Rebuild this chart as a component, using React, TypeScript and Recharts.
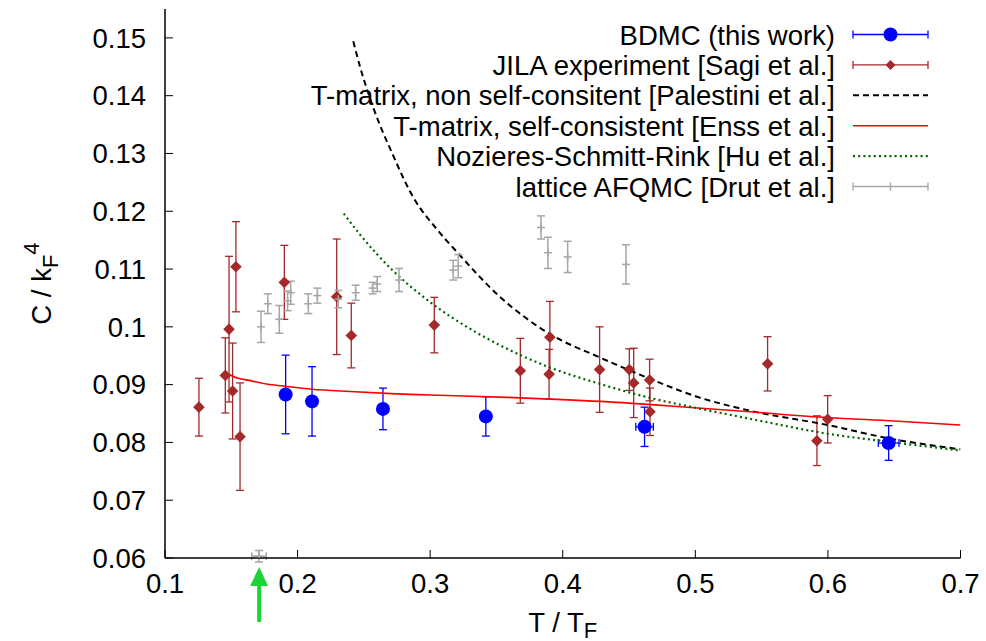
import React from 'react';
import { ComposedChart, XAxis, YAxis, Scatter, Line, ErrorBar, ReferenceDot, Legend } from 'recharts';

const FONT = '"Liberation Sans", Arial, Helvetica, sans-serif';
const FS = 27.5;
const FS_SMALL = 22;

// BDMC (this work)
const bdmcT = [0.191, 0.2109, 0.2644, 0.342, 0.4617, 0.6458];
const bdmcC = [0.0883, 0.0871, 0.0858, 0.0845, 0.0827, 0.0799];
const bdmcErrC = [0.0068, 0.006, 0.0036, 0.0034, 0.0034, 0.003];
const bdmcErrT = [0, 0, 0, 0, 0.0066, 0.0078];

// JILA experiment
const jilaT = [0.1256, 0.1455, 0.1483, 0.151, 0.1535, 0.1566, 0.19, 0.2295, 0.2405, 0.3031, 0.368, 0.3903, 0.3897, 0.4278, 0.4502, 0.4535, 0.4655, 0.4658, 0.5545, 0.5917, 0.5998];
const jilaC = [0.0861, 0.0916, 0.0996, 0.0889, 0.1104, 0.081, 0.1077, 0.1052, 0.0985, 0.1003, 0.0924, 0.0982, 0.0918, 0.0926, 0.0926, 0.0903, 0.0908, 0.0853, 0.0936, 0.0803, 0.084];
const jilaErr = [0.005, 0.0065, 0.0126, 0.0083, 0.0078, 0.0093, 0.0064, 0.01, 0.0056, 0.0048, 0.0056, 0.0062, 0.0043, 0.0074, 0.0036, 0.006, 0.0036, 0.0041, 0.0047, 0.0043, 0.0041];

// T-matrix, non self-consistent
const palT = [0.242, 0.247, 0.257, 0.272, 0.287, 0.305, 0.32, 0.3526, 0.39, 0.428, 0.466, 0.5, 0.541, 0.6, 0.646, 0.7];
const palC = [0.1494, 0.1451, 0.138, 0.1297, 0.1225, 0.1169, 0.113, 0.1052, 0.0988, 0.0947, 0.091, 0.088, 0.0855, 0.083, 0.0807, 0.0788];

// T-matrix, self-consistent
const enssT = [0.149, 0.1515, 0.164, 0.1767, 0.191, 0.211, 0.2395, 0.2747, 0.3, 0.3577, 0.4, 0.45, 0.4808, 0.5412, 0.6, 0.65, 0.7];
const enssC = [0.0917, 0.0914, 0.0907, 0.0901, 0.0897, 0.0892, 0.0888, 0.0884, 0.0882, 0.0878, 0.0874, 0.0868, 0.0863, 0.0853, 0.0843, 0.0837, 0.083];

// Nozieres-Schmitt-Rink
const nsrT = [0.2348, 0.247, 0.272, 0.297, 0.335, 0.358, 0.39, 0.43, 0.466, 0.5, 0.541, 0.6, 0.65, 0.7];
const nsrC = [0.1196, 0.116, 0.1097, 0.1048, 0.099, 0.0962, 0.093, 0.09, 0.0877, 0.086, 0.0841, 0.0815, 0.08, 0.0786];

// lattice AFQMC
const afqmcT = [0.1709, 0.1724, 0.1775, 0.1862, 0.1925, 0.1948, 0.2081, 0.2149, 0.2307, 0.2438, 0.2566, 0.2601, 0.2765, 0.3174, 0.3212, 0.3836, 0.3888, 0.4037, 0.4477];
const afqmcC = [0.0603, 0.1, 0.104, 0.1013, 0.1045, 0.1059, 0.104, 0.1054, 0.1048, 0.1059, 0.1067, 0.1074, 0.1081, 0.1098, 0.1105, 0.1172, 0.1128, 0.1121, 0.1108];
const afqmcErrC = [0.001, 0.0027, 0.0017, 0.0024, 0.0017, 0.002, 0.0017, 0.0013, 0.0015, 0.0013, 0.001, 0.0013, 0.002, 0.0017, 0.002, 0.002, 0.0027, 0.0027, 0.0034];
const afqmcErrT = [0.0055, 0, 0, 0, 0, 0, 0, 0, 0, 0, 0, 0, 0, 0, 0, 0, 0, 0, 0];

const xTicks = [0.1, 0.2, 0.3, 0.4, 0.5, 0.6, 0.7];
const yTicks = [0.06, 0.07, 0.08, 0.09, 0.1, 0.11, 0.12, 0.13, 0.14, 0.15];
const xDomain = [0.1, 0.7];
const yDomain = [0.06, 0.155];

const arrowT = 0.171;
const arrowTipC = 0.05844;

const seriesNames = [
  'BDMC (this work)',
  'JILA experiment [Sagi et al.]',
  'T-matrix, non self-consitent [Palestini et al.]',
  'T-matrix, self-consistent [Enss et al.]',
  'Nozieres-Schmitt-Rink [Hu et al.]',
  'lattice AFQMC [Drut et al.]',
];

const BLUE = '#0000ff';
const BROWN = '#a3292b';
const RED = '#ff0000';
const GREEN = '#006400';
const GRAY = '#a6a6a6';
const ARROW = '#1ed435';

const bdmcData = bdmcT.map((x, i) => ({ x, y: bdmcC[i], ey: bdmcErrC[i], ex: bdmcErrT[i] }));
const jilaData = jilaT.map((x, i) => ({ x, y: jilaC[i], ey: jilaErr[i] }));
const palData = palT.map((x, i) => ({ x, y: palC[i] }));
const enssData = enssT.map((x, i) => ({ x, y: enssC[i] }));
const nsrData = nsrT.map((x, i) => ({ x, y: nsrC[i] }));
const afqmcData = afqmcT.map((x, i) => ({ x, y: afqmcC[i], ey: afqmcErrC[i], ex: afqmcErrT[i] }));

const Circle = (p: any) => <circle cx={p.cx} cy={p.cy} r={7} fill={BLUE} />;
const Diamond = (p: any) => {
  const { cx, cy } = p;
  const h = 5.8;
  return <polygon points={`${cx},${cy - h} ${cx + h},${cy} ${cx},${cy + h} ${cx - h},${cy}`} fill={BROWN} />;
};
const Plus = (p: any) => {
  const { cx, cy } = p;
  return (
    <g stroke={GRAY} strokeWidth={1.5}>
      <line x1={cx - 4} y1={cy} x2={cx + 4} y2={cy} />
      <line x1={cx} y1={cy - 4} x2={cx} y2={cy + 4} />
    </g>
  );
};
const Arrow = (p: any) => {
  const { cx, cy } = p;
  return (
    <g>
      <polygon points={`${cx},${cy} ${cx - 9},${cy + 19} ${cx + 9},${cy + 19}`} fill={ARROW} />
      <rect x={cx - 2} y={cy + 17} width={4} height={38} fill={ARROW} />
    </g>
  );
};

const YLabel = (props: any) => {
  const vb = props.viewBox || { x: 0, y: 9, width: 165, height: 549 };
  const cx = vb.x + 51;
  const cy = vb.y + vb.height / 2;
  return (
    <text x={cx} y={cy} textAnchor="middle" fontSize={FS} fontFamily={FONT} fill="#000" transform={`rotate(-90 ${cx} ${cy})`}>
      C / k
      <tspan fontSize={FS_SMALL} dy={7}>F</tspan>
      <tspan fontSize={FS_SMALL} dy={-19}>4</tspan>
    </text>
  );
};

const XLabel = (props: any) => {
  const vb = props.viewBox || { x: 165, y: 558, width: 795.5, height: 83 };
  const cx = vb.x + vb.width / 2;
  const y = vb.y + 74;
  return (
    <text x={cx} y={y} textAnchor="middle" fontSize={FS} fontFamily={FONT} fill="#000">
      T / T
      <tspan fontSize={FS_SMALL} dy={5.5}>F</tspan>
    </text>
  );
};

const LegendBox = () => {
  const x1 = 853;
  const x2 = 928;
  const xm = (x1 + x2) / 2;
  return (
    <svg width={986} height={215} style={{ display: 'block' }}>
      {seriesNames.map((name, i) => {
        const y = 34.5 + i * 30.4;
        let sample: any = null;
        if (i === 0) {
          sample = (
            <g stroke={BLUE} strokeWidth={1.3}>
              <line x1={x1} y1={y} x2={x2} y2={y} />
              <line x1={x1} y1={y - 4} x2={x1} y2={y + 4} />
              <line x1={x2} y1={y - 4} x2={x2} y2={y + 4} />
              <circle cx={xm} cy={y} r={7} fill={BLUE} stroke="none" />
            </g>
          );
        } else if (i === 1) {
          sample = (
            <g stroke={BROWN} strokeWidth={1.3}>
              <line x1={x1} y1={y} x2={x2} y2={y} />
              <line x1={x1} y1={y - 4} x2={x1} y2={y + 4} />
              <line x1={x2} y1={y - 4} x2={x2} y2={y + 4} />
              <polygon points={`${xm},${y - 5} ${xm + 5},${y} ${xm},${y + 5} ${xm - 5},${y}`} fill={BROWN} stroke="none" />
            </g>
          );
        } else if (i === 2) {
          sample = <line x1={x1} y1={y} x2={x2} y2={y} stroke="#000" strokeWidth={2} strokeDasharray="6 4" />;
        } else if (i === 3) {
          sample = <line x1={x1} y1={y} x2={x2} y2={y} stroke={RED} strokeWidth={1.6} />;
        } else if (i === 4) {
          sample = <line x1={x1} y1={y} x2={x2} y2={y} stroke={GREEN} strokeWidth={2.2} strokeDasharray="2 3.2" />;
        } else {
          sample = (
            <g stroke={GRAY} strokeWidth={1.3}>
              <line x1={x1} y1={y} x2={x2} y2={y} />
              <line x1={x1} y1={y - 4} x2={x1} y2={y + 4} />
              <line x1={x2} y1={y - 4} x2={x2} y2={y + 4} />
              <line x1={xm} y1={y - 4} x2={xm} y2={y + 4} />
            </g>
          );
        }
        return (
          <g key={name}>
            <text x={835} y={y + 10} textAnchor="end" fontSize={FS} fontFamily={FONT} fill="#000">
              {name}
            </text>
            {sample}
          </g>
        );
      })}
    </svg>
  );
};

const tickStyle = { fontSize: FS, fill: '#000', fontFamily: FONT };

export default function App() {
  return (
    <div style={{ position: 'absolute', left: 0, top: 0, width: 986, height: 641, background: '#fff', fontFamily: FONT }}>
      <ComposedChart width={986} height={641} margin={{ top: 9, right: 25.5, bottom: 0, left: 0 }}>
        <XAxis
          type="number"
          dataKey="x"
          domain={xDomain}
          ticks={xTicks}
          allowDataOverflow
          height={83}
          tickSize={-8}
          tickMargin={23.5}
          tick={tickStyle}
          axisLine={{ stroke: '#000', strokeWidth: 1.5 }}
          tickLine={{ stroke: '#000', strokeWidth: 1 }}
          label={<XLabel />}
        />
        <XAxis
          xAxisId="top"
          orientation="top"
          type="number"
          dataKey="x"
          domain={xDomain}
          ticks={xTicks}
          allowDataOverflow
          height={0}
          tickSize={-8}
          tick={false}
          axisLine={{ stroke: '#000', strokeWidth: 1.5 }}
          tickLine={{ stroke: '#000', strokeWidth: 1 }}
        />
        <YAxis
          type="number"
          dataKey="y"
          domain={yDomain}
          ticks={yTicks}
          allowDataOverflow
          width={165}
          tickSize={-8}
          tickMargin={27}
          tick={tickStyle}
          axisLine={{ stroke: '#000', strokeWidth: 1.5 }}
          tickLine={{ stroke: '#000', strokeWidth: 1 }}
          label={<YLabel />}
        />
        <YAxis
          yAxisId="right"
          orientation="right"
          type="number"
          dataKey="y"
          domain={yDomain}
          ticks={yTicks}
          allowDataOverflow
          width={0}
          tickSize={-8}
          tick={false}
          axisLine={{ stroke: '#000', strokeWidth: 1.5 }}
          tickLine={{ stroke: '#000', strokeWidth: 1 }}
        />
        <Legend
          layout="horizontal"
          verticalAlign="middle"
          align="center"
          content={<LegendBox />}
          wrapperStyle={{ position: 'absolute', left: 0, top: 0, width: 986, height: 215, margin: 0, padding: 0 }}
        />
        <Scatter name={seriesNames[0]} data={bdmcData} shape={<Circle />} isAnimationActive={false}>
          <ErrorBar dataKey="ey" direction="y" width={4} stroke={BLUE} strokeWidth={1.3} />
          <ErrorBar dataKey="ex" direction="x" width={4} stroke={BLUE} strokeWidth={1.3} />
        </Scatter>
        <Scatter name={seriesNames[1]} data={jilaData} shape={<Diamond />} isAnimationActive={false}>
          <ErrorBar dataKey="ey" direction="y" width={4} stroke={BROWN} strokeWidth={1.3} />
        </Scatter>
        <Line name={seriesNames[2]} data={palData} dataKey="y" type="monotone" stroke="#000" strokeWidth={2} strokeDasharray="6 4" dot={false} activeDot={false} isAnimationActive={false} />
        <Line name={seriesNames[3]} data={enssData} dataKey="y" type="monotone" stroke={RED} strokeWidth={1.6} dot={false} activeDot={false} isAnimationActive={false} />
        <Line name={seriesNames[4]} data={nsrData} dataKey="y" type="monotone" stroke={GREEN} strokeWidth={2.2} strokeDasharray="2 3.2" dot={false} activeDot={false} isAnimationActive={false} />
        <Scatter name={seriesNames[5]} data={afqmcData} shape={<Plus />} isAnimationActive={false}>
          <ErrorBar dataKey="ey" direction="y" width={4} stroke={GRAY} strokeWidth={1.5} />
          <ErrorBar dataKey="ex" direction="x" width={4} stroke={GRAY} strokeWidth={1.5} />
        </Scatter>
        <ReferenceDot x={arrowT} y={arrowTipC} ifOverflow="visible" shape={<Arrow />} />
      </ComposedChart>
    </div>
  );
}
